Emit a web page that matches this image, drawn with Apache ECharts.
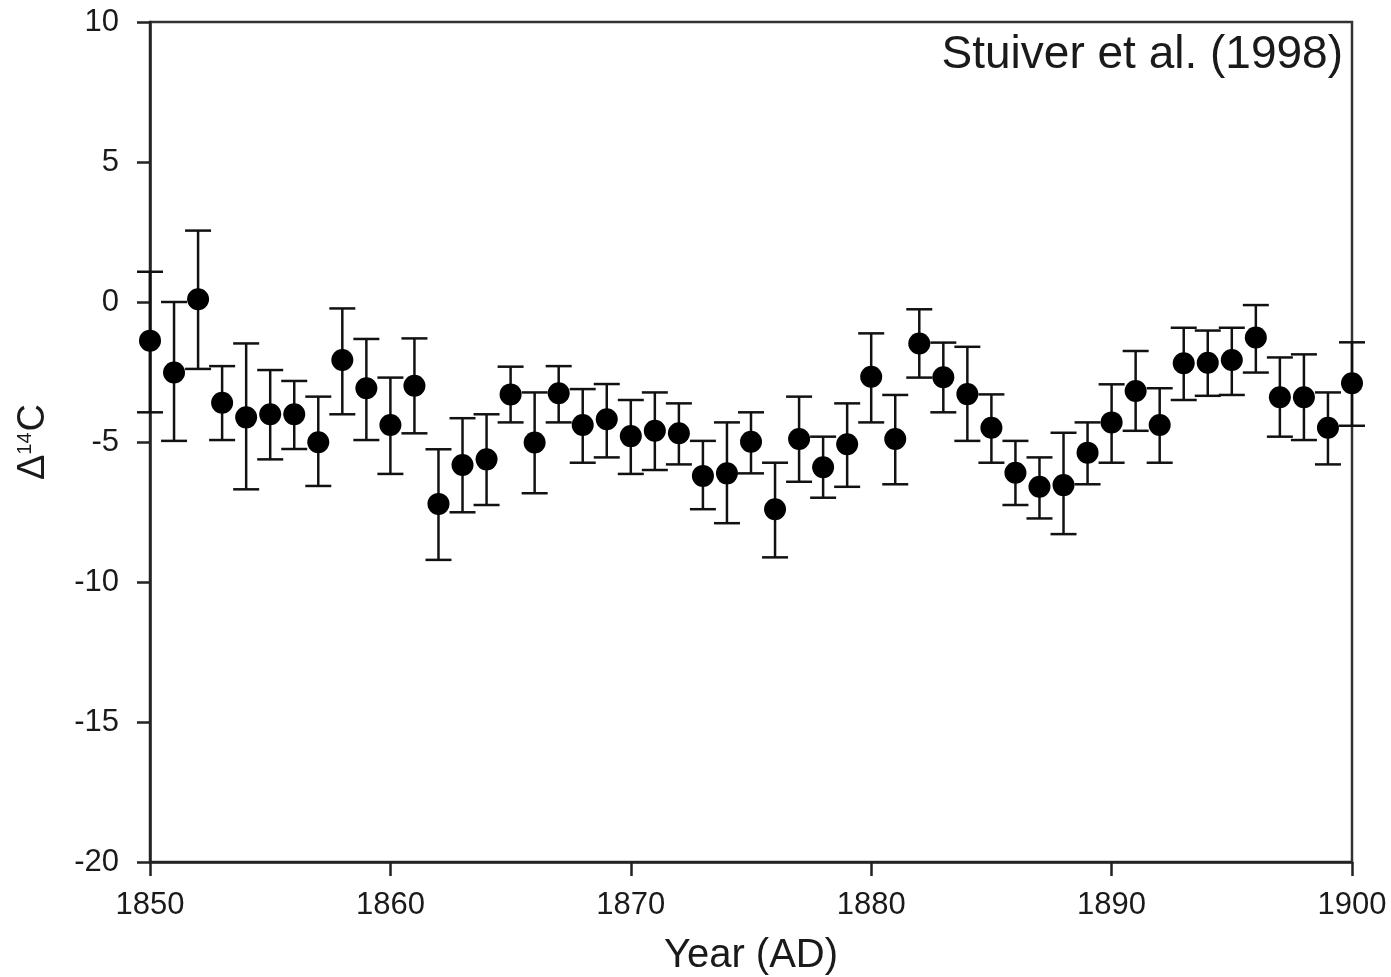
<!DOCTYPE html>
<html>
<head>
<meta charset="utf-8">
<script src="https://cdn.jsdelivr.net/npm/echarts@6/dist/echarts.min.js"></script>
<style>
html,body{margin:0;padding:0;background:#fff;}
#chart{width:1391px;height:977px;}
</style>
</head>
<body>
<div id="chart"></div>
<script>
var years = [1850,1851,1852,1853,1854,1855,1856,1857,1858,1859,
             1860,1861,1862,1863,1864,1865,1866,1867,1868,1869,
             1870,1871,1872,1873,1874,1875,1876,1877,1878,1879,
             1880,1881,1882,1883,1884,1885,1886,1887,1888,1889,
             1890,1891,1892,1893,1894,1895,1896,1897,1898,1899,1900];
var d14C = [-1.38,-2.52,0.1,-3.6,-4.12,-4.01,-4.01,-5.01,-2.07,-3.08,
            -4.39,-2.99,-7.21,-5.82,-5.62,-3.3,-5.02,-3.26,-4.39,-4.19,
            -4.79,-4.6,-4.69,-6.21,-6.12,-4.99,-7.4,-4.89,-5.9,-5.08,
            -2.67,-4.89,-1.48,-2.69,-3.29,-4.49,-6.1,-6.6,-6.54,-5.38,
            -4.3,-3.18,-4.39,-2.19,-2.17,-2.07,-1.27,-3.4,-3.4,-4.49,-2.9];
var upper = [1.08,0.0,2.55,-2.29,-1.48,-2.43,-2.82,-3.38,-0.23,-1.32,
             -2.7,-1.3,-5.26,-4.15,-4.01,-2.31,-3.23,-2.29,-3.11,-2.93,
             -3.5,-3.23,-3.62,-4.96,-4.3,-3.94,-5.74,-3.38,-4.81,-3.62,
             -1.12,-3.32,-0.26,-1.45,-1.6,-3.3,-4.96,-5.55,-4.67,-4.3,
             -2.94,-1.75,-3.08,-0.92,-1.02,-0.92,-0.11,-1.98,-1.87,-3.23,-1.44];
var lower = [-3.94,-4.96,-2.39,-4.93,-6.69,-5.62,-5.25,-6.57,-4.01,-4.93,
             -6.14,-4.69,-9.21,-7.51,-7.25,-4.3,-6.83,-4.3,-5.74,-5.55,
             -6.14,-6.0,-5.8,-7.4,-7.9,-6.12,-9.12,-6.42,-6.99,-6.6,
             -4.3,-6.51,-2.7,-3.94,-4.96,-5.74,-7.25,-7.73,-8.29,-6.51,
             -5.74,-4.6,-5.74,-3.5,-3.35,-3.32,-2.52,-4.81,-4.93,-5.8,-4.42];
var xTickLabels = ['1850','1860','1870','1880','1890','1900'];
var yTickLabels = ['-20','-15','-10','-5','0','5','10'];
var titleText = 'Stuiver et al. (1998)';
var xName = 'Year (AD)';

var points = years.map(function(y,i){return [y, d14C[i]];});
var bars = years.map(function(y,i){return [y, lower[i], upper[i]];});

var FONT = '"Liberation Sans", Arial, sans-serif';
var INK = '#1a1a1a';

var chart = echarts.init(document.getElementById('chart'), null, {renderer:'canvas'});
chart.setOption({
  backgroundColor:'#fff',
  animation:false,
  title:{
    text:titleText, right:43, top:27,
    textStyle:{fontFamily:FONT, fontSize:46, fontWeight:'normal', color:INK}
  },
  grid:{left:150, right:39, top:22, bottom:115, show:true, borderColor:'#333', borderWidth:2.5,
        containLabel:false, outerBoundsMode:'none'},
  xAxis:{
    type:'value', min:1850, max:1900, interval:10,
    name:xName, nameLocation:'middle', nameGap:74,
    nameTextStyle:{fontFamily:FONT, fontSize:40, color:INK},
    axisLine:{show:true, onZero:false, lineStyle:{color:'#222', width:2.5}},
    axisTick:{show:true, inside:false, length:14, lineStyle:{color:'#222', width:2.5}},
    axisLabel:{margin:28, fontFamily:FONT, fontSize:31, color:INK,
      formatter:function(v){ var i = xTickLabels.indexOf(String(v)); return i>=0 ? xTickLabels[i] : ''; }},
    splitLine:{show:false}
  },
  yAxis:{
    type:'value', min:-20, max:10, interval:5,
    name:'Δ{sup|14}C', nameLocation:'middle', nameGap:97, nameRotate:90,
    nameTextStyle:{fontFamily:FONT, fontSize:38, color:INK,
      rich:{sup:{fontFamily:FONT, fontSize:20, color:INK, padding:[0,1,17,0]}}},
    axisLine:{show:true, onZero:false, lineStyle:{color:'#222', width:2.5}},
    axisTick:{show:true, inside:false, length:13, lineStyle:{color:'#222', width:2.5}},
    axisLabel:{margin:31, fontFamily:FONT, fontSize:31, color:INK,
      formatter:function(v){ var i = yTickLabels.indexOf(String(v)); return i>=0 ? yTickLabels[i] : ''; }},
    splitLine:{show:false}
  },
  series:[
    {
      type:'custom',
      data:bars,
      clip:false,
      z:2,
      renderItem:function(params, api){
        var x = api.value(0);
        var lo = api.coord([x, api.value(1)]);
        var hi = api.coord([x, api.value(2)]);
        var hw = 13;
        var st = {stroke:'#111', lineWidth:2.5};
        return {type:'group', children:[
          {type:'line', shape:{x1:lo[0], y1:lo[1], x2:hi[0], y2:hi[1]}, style:st},
          {type:'line', shape:{x1:hi[0]-hw, y1:hi[1], x2:hi[0]+hw, y2:hi[1]}, style:st},
          {type:'line', shape:{x1:lo[0]-hw, y1:lo[1], x2:lo[0]+hw, y2:lo[1]}, style:st}
        ]};
      }
    },
    {
      type:'scatter',
      data:points,
      symbol:'circle',
      symbolSize:22,
      clip:false,
      z:3,
      itemStyle:{color:'#000', opacity:1}
    }
  ]
});
</script>
</body>
</html>
